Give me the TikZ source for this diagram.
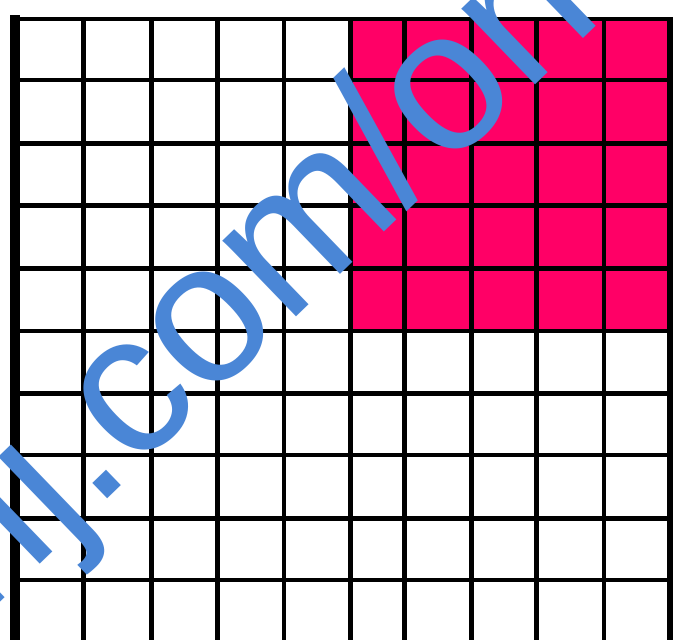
\documentclass[tikz,border=0pt]{standalone}
\usepackage{fontspec}
\newfontfamily\wmfont{Liberation Sans}
\definecolor{cellpink}{HTML}{FF0066}
\definecolor{wmblue}{HTML}{4A86D6}
\begin{document}
\begin{tikzpicture}[x=1pt,y=-1pt,
  gridline/.style={line width=4.5pt,black},
  edgeline/.style={line width=10pt,black},
  rightedge/.style={line width=6pt,black},
  watermark/.style={font=\wmfont\fontsize{200pt}{240pt}\selectfont,text=wmblue,inner sep=0pt,anchor=base west,rotate=44}]
\useasboundingbox (0,0) rectangle (674,640);
\clip (0,0) rectangle (674,640);
\fill[white] (0,0) rectangle (674,640);
% pink block
\fill[cellpink] (351,19) rectangle (670,331);
% vertical lines
\foreach \x in {83.3,151.7,217.3,284,350.7,404.7,471.3,536.7,604}
  \draw[gridline] (\x,17) -- (\x,640);
% horizontal lines
\foreach \y in {80,143.3,205.7,268.3,331,393.3,455,518.3,580}
  \draw[gridline] (15,\y) -- (670,\y);
\draw[gridline] (10,19) -- (673,19);
\draw[edgeline] (15,15) -- (15,640);
\draw[rightedge] (670,17) -- (670,640);
% watermark
\node[watermark] (wm) at (-17.8,619.5) {rlj.com/on};
\end{tikzpicture}
\end{document}
